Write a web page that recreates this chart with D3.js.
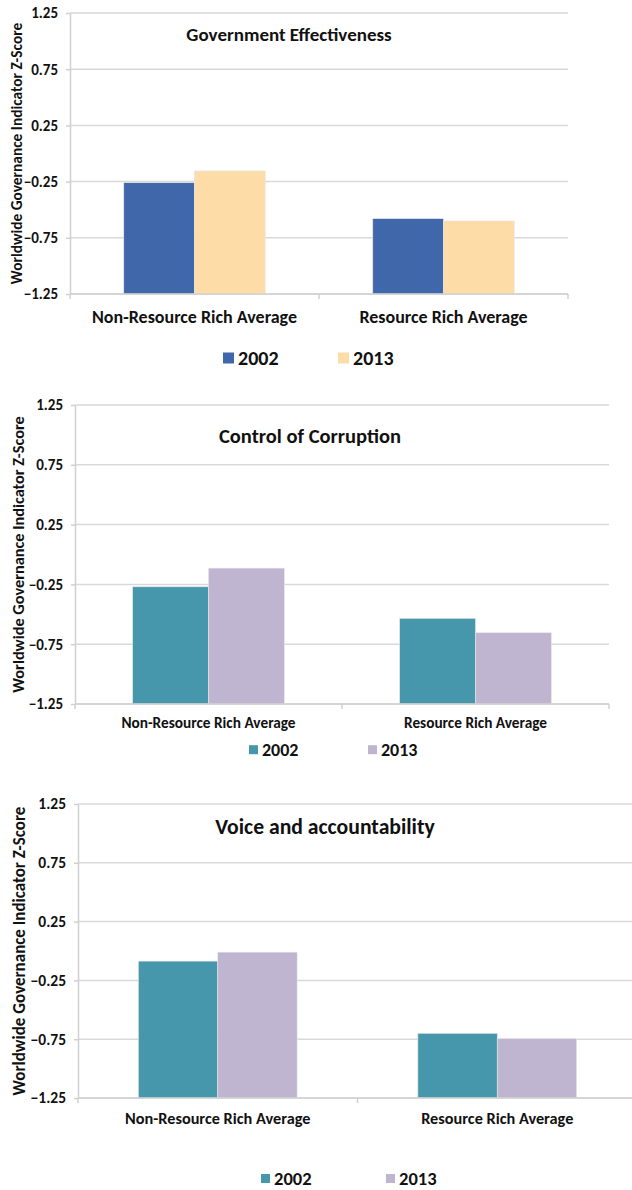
<!DOCTYPE html>
<html>
<head>
<meta charset="utf-8">
<script src="https://cdn.jsdelivr.net/npm/d3@7"></script>
<style>
  body { margin: 0; background: #fff; }
  svg text { font-family: Carlito, Lato, "Open Sans", sans-serif; font-weight: bold; fill: #111; }
</style>
</head>
<body>
<svg id="chart" width="632" height="1190"></svg>
<script>
"use strict";

// data
const categories = ["Non-Resource Rich Average", "Resource Rich Average"];
const years = ["2002", "2013"];
const yTicks = [-1.25, -0.75, -0.25, 0.25, 0.75, 1.25];
const yLabel = "Worldwide Governance Indicator Z-Score";

const titles = ["Government Effectiveness", "Control of Corruption", "Voice and accountability"];
const effectiveness2002 = [-0.26, -0.58];
const effectiveness2013 = [-0.155, -0.60];
const corruption2002 = [-0.27, -0.534];
const corruption2013 = [-0.114, -0.654];
const voice2002 = [-0.086, -0.70];
const voice2013 = [-0.01, -0.744];

// layout of each stacked panel
const panels = [
    { title: titles[0], s2002: effectiveness2002, s2013: effectiveness2013,
      left: 70, right: 568, top: 13, bottom: 294,
      colors: ["#4067a9", "#fddca8"],
      titleX: 289, titleY: 41, titleSize: 19,
      catY: 323, catSize: 18, tickSize: 15, ylabX: 17, ylabSize: 15.4,
      legY: 365, legSize: 20, legSq: 11, legX: [223, 338] },
    { title: titles[1], s2002: corruption2002, s2013: corruption2013,
      left: 75, right: 609, top: 405, bottom: 704,
      colors: ["#4797ac", "#c0b5d0"],
      titleX: 310, titleY: 443, titleSize: 20.5,
      catY: 728, catSize: 15.3, tickSize: 15, ylabX: 18, ylabSize: 16.3,
      legY: 756, legSize: 18, legSq: 9, legX: [249, 368] },
    { title: titles[2], s2002: voice2002, s2013: voice2013,
      left: 78, right: 637, top: 804, bottom: 1098,
      colors: ["#4797ac", "#c0b5d0"],
      titleX: 325, titleY: 834, titleSize: 21.7,
      catY: 1124, catSize: 16.3, tickSize: 15.5, ylabX: 19, ylabSize: 17,
      legY: 1185, legSize: 18.5, legSq: 9, legX: [261, 386] }
];

const svg = d3.select("#chart");

function drawPanel(p) {
    const g = svg.append("g");

    const yScale = d3.scaleLinear()
        .domain([-1.25, 1.25])
        .range([p.bottom, p.top]);
    const xScale = d3.scaleBand()
        .domain(categories)
        .range([p.left, p.right]);
    const gap = xScale.bandwidth() * 0.216;
    const yearScale = d3.scaleBand()
        .domain(years)
        .range([gap, xScale.bandwidth() - gap]);

    // gridlines
    g.selectAll("line.grid")
        .data(yTicks)
        .join("line")
        .attr("class", "grid")
        .attr("x1", p.left)
        .attr("x2", p.right)
        .attr("y1", d => yScale(d))
        .attr("y2", d => yScale(d))
        .attr("stroke", "#d9d9d9")
        .attr("stroke-width", 1.5);

    // y axis
    const yAxis = d3.axisLeft(yScale)
        .tickValues(yTicks)
        .tickFormat(d3.format(".2f"))
        .tickSizeInner(4)
        .tickSizeOuter(0)
        .tickPadding(8);
    const ya = g.append("g")
        .attr("transform", `translate(${p.left},0)`)
        .call(yAxis);
    ya.select(".domain").attr("stroke", "#d0d0d0").attr("stroke-width", 1.5);
    ya.selectAll(".tick line").attr("stroke", "#d0d0d0").attr("stroke-width", 1.5);
    ya.selectAll(".tick text")
        .attr("font-size", p.tickSize)
        .attr("fill", "#111");

    // bars
    const rows = categories.map((c, i) => ({ cat: c, vals: [p.s2002[i], p.s2013[i]] }));
    g.selectAll("g.cat")
        .data(rows)
        .join("g")
        .attr("class", "cat")
        .attr("transform", d => `translate(${xScale(d.cat)},0)`)
        .selectAll("rect")
        .data(d => d.vals.map((v, j) => ({ year: years[j], value: v, idx: j })))
        .join("rect")
        .attr("x", d => yearScale(d.year))
        .attr("width", yearScale.bandwidth())
        .attr("y", d => yScale(d.value))
        .attr("height", d => yScale(-1.25) - yScale(d.value))
        .attr("fill", d => p.colors[d.idx])
        .attr("stroke", "#e6e6e6")
        .attr("stroke-width", 0.6);

    // x axis line with divider ticks
    g.append("line")
        .attr("x1", p.left).attr("x2", p.right)
        .attr("y1", p.bottom).attr("y2", p.bottom)
        .attr("stroke", "#d0d0d0").attr("stroke-width", 1.5);
    const edges = categories.map(c => xScale(c)).concat([p.right]);
    g.selectAll("line.div")
        .data(edges)
        .join("line")
        .attr("class", "div")
        .attr("x1", d => d).attr("x2", d => d)
        .attr("y1", p.bottom).attr("y2", p.bottom + 5)
        .attr("stroke", "#d0d0d0").attr("stroke-width", 1.5);

    g.selectAll("text.cat")
        .data(categories)
        .join("text")
        .attr("class", "cat")
        .attr("x", d => xScale(d) + xScale.bandwidth() / 2)
        .attr("y", p.catY)
        .attr("text-anchor", "middle")
        .attr("font-size", p.catSize)
        .text(d => d);

    // title
    g.append("text")
        .attr("x", p.titleX)
        .attr("y", p.titleY)
        .attr("text-anchor", "middle")
        .attr("font-size", p.titleSize)
        .text(p.title);

    // y label
    g.append("text")
        .attr("transform", `translate(${p.ylabX},${(p.top + p.bottom) / 2}) rotate(-90)`)
        .attr("text-anchor", "middle")
        .attr("dy", "0.35em")
        .attr("font-size", p.ylabSize)
        .text(yLabel);

    // legend
    const leg = g.selectAll("g.leg")
        .data(years)
        .join("g")
        .attr("class", "leg")
        .attr("transform", (d, i) => `translate(${p.legX[i]},${p.legY})`);
    leg.append("rect")
        .attr("x", 0)
        .attr("y", -p.legSq / 2 - p.legSize * 0.35)
        .attr("width", p.legSq)
        .attr("height", p.legSq)
        .attr("fill", (d, i) => p.colors[i]);
    leg.append("text")
        .attr("x", p.legSq + 4)
        .attr("y", 0)
        .attr("font-size", p.legSize)
        .text(d => d);
}

panels.forEach(drawPanel);
</script>
</body>
</html>
